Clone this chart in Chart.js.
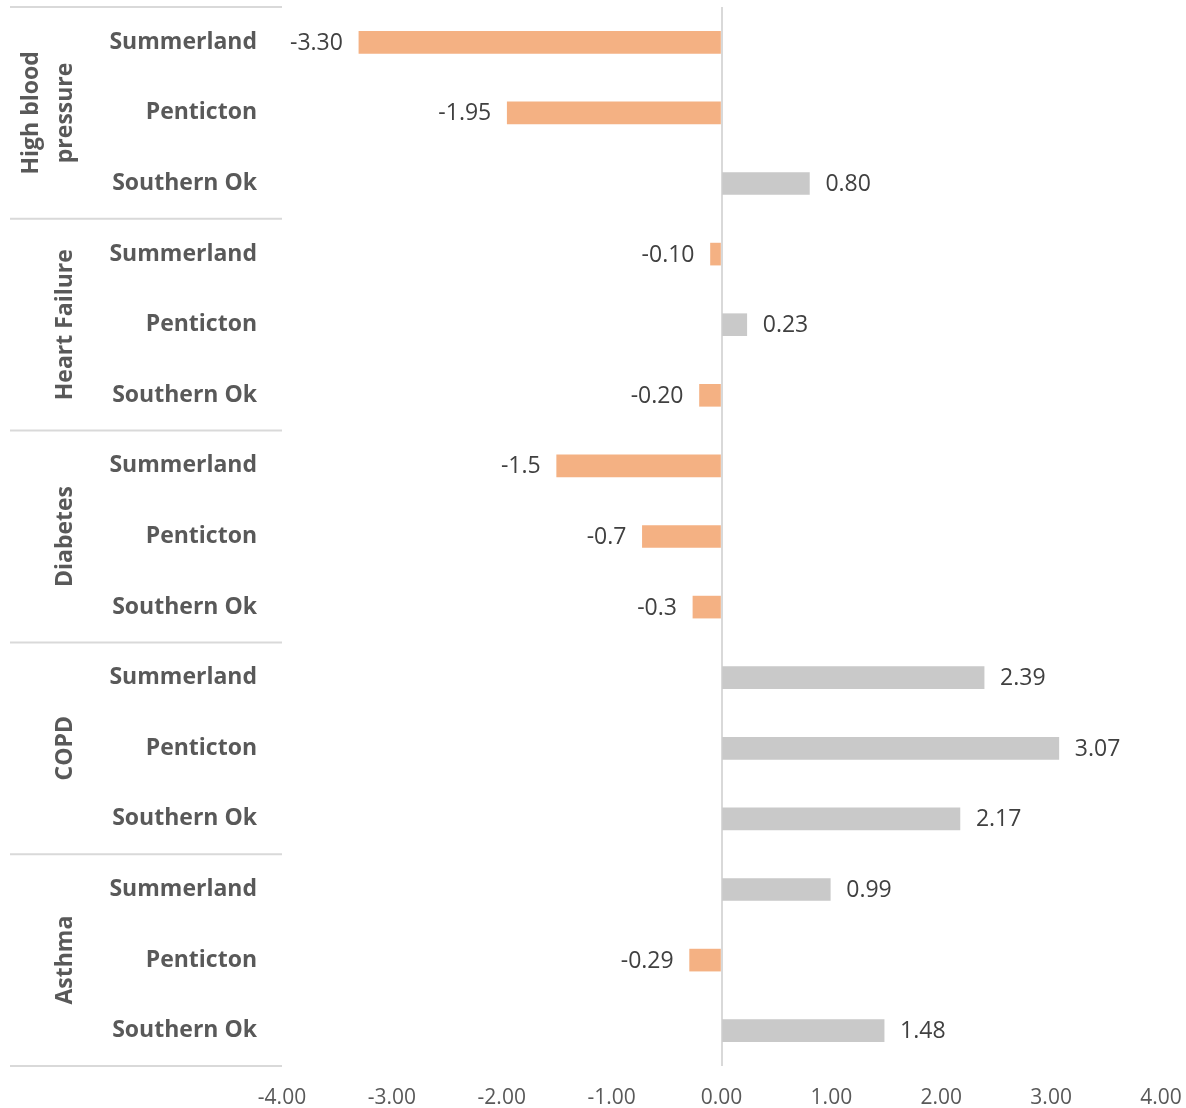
<!DOCTYPE html>
<html>
<head>
<meta charset="utf-8">
<script src="https://cdn.jsdelivr.net/npm/chart.js@4/dist/chart.umd.min.js"></script>
<style>
body { margin: 0; background: #fff; }
#wrap { width: 1186px; height: 1108px; position: relative; }
</style>
</head>
<body>
<div id="wrap"><canvas id="barChart"></canvas></div>
<script>
// DATA
let groups = ['High blood|pressure', 'Heart Failure', 'Diabetes', 'COPD', 'Asthma'];
let places = ['Summerland', 'Penticton', 'Southern Ok'];

let hbp_vals = [-3.30, -1.95, 0.80];
let hf_vals = [-0.10, 0.23, -0.20];
let diabetes_vals = [-1.5, -0.72, -0.26];
let copd_vals = [2.39, 3.07, 2.17];
let asthma_vals = [0.99, -0.29, 1.48];

let value_labels = ['-3.30', '-1.95', '0.80', '-0.10', '0.23', '-0.20', '-1.5', '-0.7', '-0.3',
    '2.39', '3.07', '2.17', '0.99', '-0.29', '1.48'];

let x_ticks = [-4, -3, -2, -1, 0, 1, 2, 3, 4];

// BUILD ROWS
let labels = [];
groups.forEach(g => { places.forEach(p => labels.push(p)); });
let values = [].concat(hbp_vals, hf_vals, diabetes_vals, copd_vals, asthma_vals);
let bar_colors = values.map(v => v < 0 ? '#F4B183' : '#C9C9C9');

const FONT = '"Open Sans", sans-serif';

// draws the value text next to each bar
const valueLabels = {
    id: 'valueLabels',
    afterDatasetsDraw(chart) {
        const ctx = chart.ctx;
        const meta = chart.getDatasetMeta(0);
        ctx.save();
        ctx.font = '23px ' + FONT;
        ctx.fillStyle = '#404040';
        ctx.textBaseline = 'middle';
        meta.data.forEach((bar, i) => {
            if (values[i] < 0) {
                ctx.textAlign = 'right';
                ctx.fillText(value_labels[i], bar.x - 16, bar.y + 1);
            } else {
                ctx.textAlign = 'left';
                ctx.fillText(value_labels[i], bar.x + 16, bar.y + 1);
            }
        });
        ctx.restore();
    }
};

// group names (rotated) and separator lines on the left
const groupAxis = {
    id: 'groupAxis',
    afterDraw(chart) {
        const ctx = chart.ctx;
        const y = chart.scales.y;
        const area = chart.chartArea;
        ctx.save();
        ctx.strokeStyle = '#D9D9D9';
        ctx.lineWidth = 2;
        for (let g = 0; g <= groups.length; g++) {
            let yy = g === 0 ? area.top : (g === groups.length ? area.bottom : (y.getPixelForValue(g * 3 - 1) + y.getPixelForValue(g * 3)) / 2);
            ctx.beginPath();
            ctx.moveTo(10, yy);
            ctx.lineTo(area.left, yy);
            ctx.stroke();
        }
        ctx.font = 'bold 23px ' + FONT;
        ctx.fillStyle = '#595959';
        ctx.textAlign = 'center';
        ctx.textBaseline = 'middle';
        groups.forEach((g, gi) => {
            let cy = y.getPixelForValue(gi * 3 + 1);
            let lines = g.split('|');
            lines.forEach((line, li) => {
                let cx = 65 - (lines.length - 1 - li) * 34;
                ctx.save();
                ctx.translate(cx, cy);
                ctx.rotate(-Math.PI / 2);
                ctx.fillText(line, 0, 0);
                ctx.restore();
            });
        });
        ctx.restore();
    }
};

var ctxBar = document.getElementById('barChart').getContext('2d');
var barChart = new Chart(ctxBar, {
    type: 'bar',
    data: {
        labels: labels,
        datasets: [{
            label: 'Difference',
            data: values,
            backgroundColor: bar_colors,
            barThickness: 22
        }]
    },
    options: {
        indexAxis: 'y',
        responsive: true,
        maintainAspectRatio: false,
        animation: false,
        layout: {
            padding: { top: 7, right: 25, left: 0, bottom: 0 }
        },
        plugins: {
            legend: { display: false },
            tooltip: { enabled: false }
        },
        scales: {
            x: {
                min: -4,
                max: 4,
                afterBuildTicks: function(scale) {
                    scale.ticks = x_ticks.map(v => ({ value: v }));
                },
                afterFit: function(scale) {
                    scale.height = 42;
                    scale.paddingLeft = 0;
                    scale.paddingRight = 0;
                },
                ticks: {
                    padding: 19,
                    color: '#595959',
                    font: { family: FONT, size: 21 },
                    callback: function(v) { return Number(v).toFixed(2); }
                },
                grid: {
                    drawTicks: false,
                    lineWidth: 2,
                    color: function(c) { return c.tick && c.tick.value === 0 ? '#D9D9D9' : 'rgba(0,0,0,0)'; }
                },
                border: { display: false }
            },
            y: {
                afterFit: function(scale) {
                    scale.width = 282;
                    scale.paddingTop = 0;
                    scale.paddingBottom = 0;
                },
                ticks: {
                    padding: 17,
                    color: '#595959',
                    font: { family: FONT, size: 23, weight: 'bold' }
                },
                grid: { display: false },
                border: { display: false }
            }
        }
    },
    plugins: [valueLabels, groupAxis]
});
</script>
</body>
</html>
